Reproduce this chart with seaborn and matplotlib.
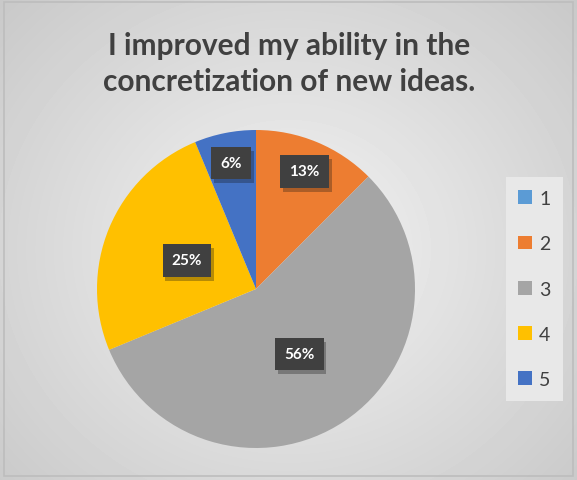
import matplotlib
matplotlib.use("Agg")
import matplotlib.pyplot as plt
import matplotlib.patheffects as pe
import numpy as np
import seaborn as sns
from matplotlib.patches import Rectangle

# 설문 응답 (1~5 척도), 응답 수 기준
categories = ["1", "2", "3", "4", "5"]
counts = [0, 2, 9, 4, 1]
colors = ["#5B9BD5", "#ED7D31", "#A5A5A5", "#FFC000", "#4472C4"]
title = "I improved my ability in the\nconcretization of new ideas."

sns.set_style("white")
plt.rcParams["font.family"] = ["Lato", "DejaVu Sans"]

W, H = 577, 481
fig = plt.figure(figsize=(W / 100, H / 100), dpi=100)

# 배경: 가운데가 밝은 방사형 그라데이션
bg = fig.add_axes([0, 0, 1, 1])
yy, xx = np.mgrid[0:H, 0:W]
dist = np.sqrt(((xx - 288) / 330.0) ** 2 + ((yy - 250) / 300.0) ** 2)
shade = np.clip(0.955 - 0.14 * dist, 0.78, 0.96)
bg.imshow(shade, cmap="gray", vmin=0, vmax=1, extent=[0, W, H, 0], aspect="auto")
bg.add_patch(Rectangle((4, 3), 569, 474, fill=False, edgecolor="#bdbdbd", lw=1.2))
bg.set_xlim(0, W)
bg.set_ylim(H, 0)
bg.axis("off")

# 파이 영역
cx, cy, r = 256, 290, 159
ax = fig.add_axes([(cx - r) / W, (H - cy - r) / H, 2 * r / W, 2 * r / H])
palette = sns.color_palette(colors)
wedges, _ = ax.pie(counts, colors=palette, startangle=90, counterclock=False,
                   radius=1.0, wedgeprops=dict(linewidth=0))
ax.set_xlim(-1, 1)
ax.set_ylim(-1, 1)
ax.axis("off")

total = sum(counts)
label_r = [0.8, 0.8, 0.49, 0.47, 0.81]
for w, c, lr in zip(wedges, counts, label_r):
    if c == 0:
        continue
    pct = int(100.0 * c / total + 0.5)
    mid = np.deg2rad((w.theta1 + w.theta2) / 2)
    x, y = lr * np.cos(mid), lr * np.sin(mid)
    t = ax.text(x, y, f"{pct}%", ha="center", va="center", fontsize=11,
                fontweight="bold", color="white",
                bbox=dict(boxstyle="square,pad=0.6", fc="#404040", ec="none"))
    t.get_bbox_patch().set_path_effects(
        [pe.SimplePatchShadow(offset=(2, -3), alpha=0.3), pe.Normal()])

fig.text(289 / W, 1 - 64 / H, title, ha="center", va="center", fontsize=21.5,
         fontweight="bold", color="#404040", linespacing=1.35)

leg = fig.legend(wedges, categories, loc="center", bbox_to_anchor=(534.5 / W, 1 - 290 / H),
                 frameon=True, fontsize=14, labelcolor="#404040",
                 handlelength=0.72, handleheight=0.72, handletextpad=0.35,
                 labelspacing=1.45, borderpad=0.65, fancybox=False)
leg.get_frame().set_facecolor("#e8e8e8")
leg.get_frame().set_edgecolor("none")
leg.get_frame().set_alpha(1)

fig.savefig("out.png", dpi=100)
